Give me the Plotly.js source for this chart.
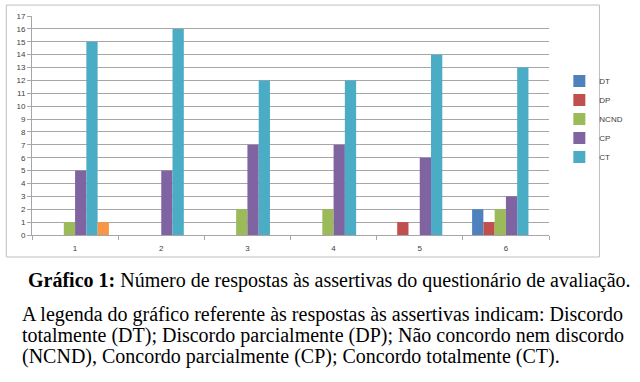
<!DOCTYPE html>
<html><head><meta charset="utf-8">
<script src="https://cdn.plot.ly/plotly-3.0.1.min.js"></script>
<style>html,body{margin:0;padding:0;background:#fff;}#chart{width:640px;height:382px;}</style>
</head><body><div id="chart"></div>
<script>
const categories = ['1','2','3','4','5','6'];
const seriesNames = ['DT','DP','NCND','CP','CT'];
const DT   = [0,0,0,0,0,2];
const DP   = [0,0,0,0,1,1];
const NCND = [1,0,2,2,0,2];
const CP   = [5,5,7,7,6,3];
const CT   = [15,16,12,12,14,13];
const extra = [1,0,0,0,0,0];
const yTicks = [0,1,2,3,4,5,6,7,8,9,10,11,12,13,14,15,16,17];
const captionLines = [
  '<b>Gráfico 1:</b> Número de respostas às assertivas do questionário de avaliação.',
  'A legenda do gráfico referente às respostas às assertivas indicam: Discordo',
  'totalmente (DT); Discordo parcialmente (DP); Não concordo nem discordo',
  '(NCND), Concordo parcialmente (CP); Concordo totalmente (CT).'
];
const colors = ['#4F81BD','#C0504D','#9BBB59','#8064A2','#4BACC6','#F79646'];
const values = [DT,DP,NCND,CP,CT,extra];
const names = seriesNames.concat(['']);

const traces = values.map((v,i)=>({
  type:'bar', x:categories, y:v, name:names[i],
  marker:{color:colors[i]}, showlegend: i<5, hoverinfo:'none'
}));

const tickFont = {family:'Liberation Sans, Arial, sans-serif', size:8, color:'#404040'};
const capX = [-0.011,-0.024,-0.024,-0.024];
const capY = [-0.2066,-0.3619,-0.4578,-0.5537];
const layout = {
  width:640, height:382,
  margin:{l:32,r:65,t:16,b:147},
  paper_bgcolor:'#fff', plot_bgcolor:'#fff',
  barmode:'group', bargap:0.215, bargroupgap:0,
  xaxis:{type:'category', tickfont:tickFont, showline:true, linecolor:'#a6a6a6', linewidth:1,
         ticks:'outside', tickson:'boundaries', ticklen:4, tickcolor:'#a6a6a6', showgrid:false,
         ticklabelstandoff:5},
  yaxis:{range:[0,17], tickvals:yTicks, tickfont:tickFont, showline:true, linecolor:'#a6a6a6',
         gridcolor:'#a6a6a6', gridwidth:1, ticks:'outside', ticklen:4, tickcolor:'#a6a6a6', zeroline:false},
  legend:{x:1.02, xanchor:'left', y:0.53, yanchor:'middle', font:{family:'Liberation Sans, Arial, sans-serif', size:8, color:'#404040'},
          bgcolor:'rgba(0,0,0,0)', tracegroupgap:0},
  shapes:[{type:'rect', xref:'paper', yref:'paper', x0:-0.0497, x1:1.0976, y0:-0.1005, y1:1.050,
           line:{color:'#bfbfbf', width:1}, fillcolor:'rgba(0,0,0,0)'}],
  annotations: captionLines.map((t,i)=>({
     xref:'paper', yref:'paper', x:capX[i], y:capY[i], xanchor:'left', yanchor:'middle', showarrow:false, align:'left',
     font:{family:'Liberation Serif, Times New Roman, serif', size:20, color:'#000'}, text:t}))
};
Plotly.newPlot('chart', traces, layout, {displayModeBar:false, staticPlot:true});
</script></body></html>
